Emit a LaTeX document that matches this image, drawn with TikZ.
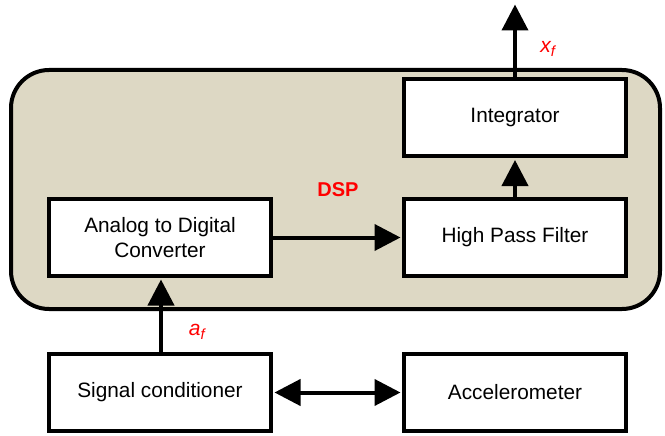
\documentclass[tikz,border=0pt]{standalone}
\usepackage{fontspec}
\setmainfont{Liberation Sans}
\usetikzlibrary{arrows.meta}
\definecolor{dspbg}{RGB}{221,216,196}
\begin{document}
\begin{tikzpicture}[x=1pt,y=-1pt,
  blk/.style={draw, line width=4pt, fill=white, minimum width=222pt, minimum height=77pt,
    font=\fontsize{20.8}{25}\selectfont, align=center, inner sep=0pt},
  arr/.style={line width=4pt, -{Triangle[length=26pt,width=26pt]}, shorten >=1.5pt},
  darr/.style={line width=4pt, {Triangle[length=26pt,width=26pt]}-{Triangle[length=26pt,width=26pt]}, shorten >=1.5pt, shorten <=1.5pt},
  lbl/.style={text=red, font=\fontsize{21}{24}\selectfont\itshape, inner sep=0pt}]
\useasboundingbox (0,0) rectangle (665,436);
\node[draw, line width=4pt, rounded corners=38pt, fill=dspbg, minimum width=649pt, minimum height=239pt, inner sep=0pt] (dsp) at (335.5,189.5) {};
\node[text=red, font=\fontsize{20}{24}\selectfont\bfseries, inner sep=0pt] (dsplbl) at (338,190) {DSP};
\node[blk] (adc) at (160,237.5) {Analog to Digital\\Converter};
\node[blk] (hpf) at (515,237.5) {High Pass Filter};
\node[blk] (int) at (515,118) {Integrator};
\node[blk] (sc) at (160,392.5) {Signal conditioner};
\node[blk] (acc) at (515,392.5) {Accelerometer};
\coordinate (out) at (515,3);
\draw[arr] (int.north) -- (out);
\draw[arr] (hpf.north) -- (int.south);
\draw[arr] (adc.east) -- (hpf.west);
\draw[arr] (sc.north -| 161,0) -- (adc.south -| 161,0);
\draw[darr] (sc.east) -- (acc.west);
\node[lbl] (xf) at (548,49) {x\textsubscript{f}};
\node[lbl] (af) at (197,332) {a\textsubscript{f}};
\end{tikzpicture}
\end{document}
